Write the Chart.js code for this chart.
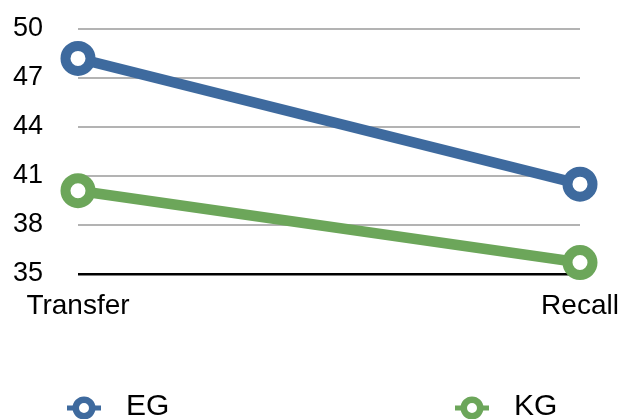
<!DOCTYPE html>
<html>
<head>
<meta charset="utf-8">
<title>EG vs KG</title>
<script src="https://cdn.jsdelivr.net/npm/chart.js@4/dist/chart.umd.min.js"></script>
<style>
  html, body { margin: 0; padding: 0; background: #ffffff; }
  #wrap { position: relative; width: 620px; height: 419px; }
</style>
</head>
<body>
<div id="wrap"><canvas id="chart" width="620" height="419"></canvas></div>
<script>
// Test phases on the x axis
const categories = ['Transfer', 'Recall'];
// Group scores per phase
const egValues = [48.2, 40.5];
const kgValues = [40.1, 35.7];
// Y axis tick labels
const yTicks = [35, 38, 41, 44, 47, 50];

const seriesNames = ['EG', 'KG'];
const seriesColors = ['#3e6a9e', '#6ca65a'];

const FONT = "'Liberation Sans', Arial, Helvetica, sans-serif";

// Bottom legend: ring marker with short line stubs, then the series name
const ringLegend = {
  id: 'ringLegend',
  afterDraw(chart, args, opts) {
    const ctx = chart.ctx;
    ctx.save();
    chart.data.datasets.forEach((ds, i) => {
      const cx = opts.centers[i];
      const cy = opts.y;
      ctx.strokeStyle = ds.borderColor;
      ctx.lineWidth = 5;
      ctx.beginPath();
      ctx.moveTo(cx - 17, cy);
      ctx.lineTo(cx + 17, cy);
      ctx.stroke();
      ctx.beginPath();
      ctx.arc(cx, cy, 8.25, 0, Math.PI * 2);
      ctx.fillStyle = '#ffffff';
      ctx.fill();
      ctx.lineWidth = 6.5;
      ctx.stroke();
      ctx.fillStyle = '#000000';
      ctx.font = '30px ' + FONT;
      ctx.textAlign = 'left';
      ctx.textBaseline = 'alphabetic';
      ctx.fillText(ds.label, cx + 42, opts.baseline);
    });
    ctx.restore();
  }
};

function series(i, values) {
  return {
    label: seriesNames[i],
    data: values,
    borderColor: seriesColors[i],
    backgroundColor: seriesColors[i],
    borderWidth: 10.5,
    pointRadius: 12.5,
    pointHoverRadius: 12.5,
    pointBorderWidth: 10,
    pointBackgroundColor: '#ffffff',
    pointBorderColor: seriesColors[i],
    tension: 0,
    clip: false
  };
}

new Chart(document.getElementById('chart'), {
  type: 'line',
  data: {
    labels: categories,
    datasets: [series(0, egValues), series(1, kgValues)]
  },
  options: {
    responsive: false,
    animation: false,
    devicePixelRatio: 1,
    layout: { autoPadding: false, padding: { top: 29, right: 40, left: 0, bottom: 0 } },
    plugins: {
      legend: { display: false },
      tooltip: { enabled: false },
      ringLegend: { centers: [84, 472], y: 408, baseline: 415 }
    },
    scales: {
      x: {
        type: 'category',
        offset: false,
        grid: { display: false, drawTicks: false },
        border: { display: false },
        ticks: {
          color: '#000000',
          padding: 15,
          maxRotation: 0,
          font: { family: FONT, size: 28 }
        },
        afterFit(scale) {
          scale.height = 145;
          scale.paddingLeft = 0;
          scale.paddingRight = 0;
        }
      },
      y: {
        min: 35,
        max: 50,
        afterBuildTicks(scale) {
          scale.ticks = yTicks.map(v => ({ value: v }));
        },
        grid: {
          drawTicks: false,
          color: c => (c.tick && c.tick.value === 35 ? '#000000' : '#b3b3b3'),
          lineWidth: c => (c.tick && c.tick.value === 35 ? 2.5 : 2)
        },
        border: { display: false },
        ticks: {
          color: '#000000',
          padding: 35,
          font: { family: FONT, size: 27 }
        },
        afterFit(scale) {
          scale.width = 78;
          scale.paddingTop = 0;
          scale.paddingBottom = 0;
        }
      }
    }
  },
  plugins: [ringLegend]
});
</script>
</body>
</html>
